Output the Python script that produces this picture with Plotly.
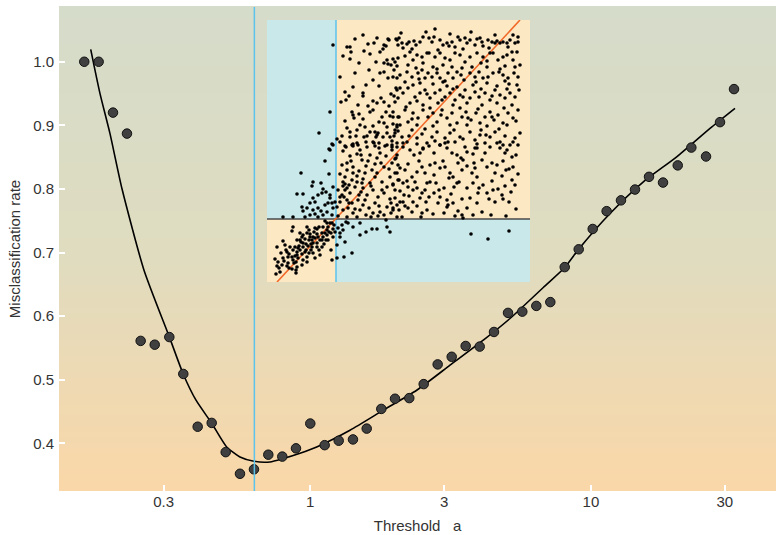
import plotly.graph_objects as go
import math

# ---------------- main chart data ----------------
thresholds = [0.1565, 0.1761, 0.1981, 0.2222, 0.2486, 0.2790, 0.3145, 0.3527,
              0.3969, 0.4453, 0.4995, 0.5616, 0.6299, 0.7086, 0.7948, 0.8893,
              1.0, 1.1253, 1.2625, 1.4195, 1.5888, 1.7909, 2.004, 2.253,
              2.536, 2.844, 3.191, 3.579, 4.015, 4.515, 5.066, 5.696,
              6.390, 7.167, 8.067, 9.048, 10.15, 11.38, 12.80, 14.36,
              16.11, 18.07, 20.39, 22.80, 25.72, 28.85, 32.36]
rates = [1.0, 1.0, 0.920, 0.887, 0.561, 0.555, 0.567, 0.509,
         0.426, 0.432, 0.386, 0.352, 0.359, 0.382, 0.379, 0.392,
         0.431, 0.397, 0.404, 0.406, 0.423, 0.454, 0.470, 0.471,
         0.493, 0.524, 0.536, 0.553, 0.552, 0.575, 0.605, 0.607,
         0.616, 0.622, 0.677, 0.705, 0.737, 0.765, 0.782, 0.799,
         0.819, 0.810, 0.837, 0.865, 0.851, 0.905, 0.957]

fit_x = [0.1650, 0.1780, 0.1932, 0.2133, 0.2555, 0.3145, 0.3527, 0.3915, 0.4453, 0.5036,
         0.5616, 0.6299, 0.7185, 0.8013, 0.9190, 1.054, 1.385, 1.820, 2.394, 3.147,
         4.136, 5.149, 6.766, 8.067, 9.048, 11.70, 15.38, 20.22, 26.58, 32.62]
fit_y = [1.0195, 0.9503, 0.8873, 0.8002, 0.6722, 0.5673, 0.5086, 0.4677, 0.4315, 0.3942,
         0.3784, 0.3717, 0.3706, 0.3760, 0.3843, 0.3942, 0.4205, 0.4520, 0.4834, 0.5227,
         0.5621, 0.5962, 0.6450, 0.6765, 0.7053, 0.7614, 0.8112, 0.8505, 0.8952, 0.9267]

optimal_threshold = 0.632

x_tickvals = [0.3, 1, 3, 10, 30]
x_ticktext = ["0.3", "1", "3", "10", "30"]
y_tickvals = [0.4, 0.5, 0.6, 0.7, 0.8, 0.9, 1.0]
y_ticktext = ["0.4", "0.5", "0.6", "0.7", "0.8", "0.9", "1.0"]

# ---------------- inset data (arbitrary score units) ----------------
inset_cut_x = 69
inset_cut_y = 63
inset_line_x = [10, 253]
inset_line_y = [0, 262]

inset_points = [
    # upper-left / top band
    (66, 237), (63, 170), (52, 149), (65, 138), (62, 133),
    (110, 244), (121, 243), (122, 242), (129, 243), (131, 237), (132, 244), (80, 235), (83, 235),
    (84, 230), (83, 223), (101, 238), (107, 239), (117, 237), (119, 236), (116, 233), (120, 222),
    (126, 223), (117, 219), (121, 218), (124, 217), (97, 231), (103, 228), (102, 212), (113, 209),
    (117, 210), (121, 204), (130, 204), (73, 205), (106, 202), (78, 190), (82, 186), (79, 182),
    (96, 189), (96, 186), (91, 177), (106, 181), (110, 179), (114, 184), (129, 194), (131, 184),
    (122, 176), (85, 170), (86, 167), (96, 163), (103, 170), (106, 172), (115, 165), (119, 170),
    (123, 166), (126, 165), (130, 157), (132, 165), (78, 161), (87, 164), (93, 157), (98, 155),
    (106, 156), (108, 150), (110, 147), (111, 149), (117, 159), (120, 155), (126, 158), (128, 152),
    (130, 155), (75, 146), (83, 145), (83, 150), (89, 146), (97, 145), (100, 146), (109, 145),
    (106, 140), (112, 139), (116, 145), (123, 145), (125, 141), (127, 146), (70, 143), (86, 138),
    (86, 136), (91, 137), (99, 140), (108, 136), (118, 136), (125, 137), (130, 135), (78, 136),
    (88, 243), (96, 247), (113, 230), (76, 226), (92, 219), (109, 220), (88, 209), (99, 197),
    (112, 196), (124, 188), (86, 195), (74, 180), (101, 176), (117, 180), (92, 168), (112, 160),
    (80, 154), (103, 150), (120, 149), (90, 152), (76, 131), (94, 127), (113, 129), (101, 121),
    (84, 121), (122, 113), (104, 96), (90, 100), (115, 92), (82, 79), (98, 82), (112, 76),
    (124, 79), (104, 65), (119, 62), (88, 73), (96, 94), (108, 118), (78, 98), (92, 87),
    # upper-right block
    (168, 253), (130, 242), (135, 239), (136, 234), (140, 238), (142, 240), (147, 241), (149, 237),
    (153, 240), (156, 245), (162, 244), (165, 240), (167, 245), (173, 242), (176, 237), (180, 239),
    (182, 236), (185, 240), (188, 235), (191, 245), (193, 242), (198, 244), (200, 239), (203, 242),
    (208, 237), (210, 243), (213, 244), (215, 240), (216, 236), (221, 242), (225, 240), (228, 239),
    (230, 241), (233, 239), (236, 240), (240, 239), (243, 242), (246, 247), (248, 239), (251, 240),
    (251, 245), (241, 235),
    (128, 220), (131, 224), (138, 226), (143, 230), (146, 222), (150, 227), (155, 225), (160, 229),
    (162, 229), (168, 225), (173, 229), (178, 224), (183, 222), (188, 229), (193, 227), (198, 220),
    (203, 225), (210, 229), (216, 225), (220, 221), (223, 229), (226, 229), (231, 222), (236, 225),
    (240, 227), (246, 222), (250, 230), (253, 217), (130, 216), (141, 217), (156, 219), (166, 215),
    (176, 217), (185, 215), (205, 215), (220, 215), (238, 216), (248, 215),
    (126, 205), (133, 207), (140, 210), (145, 205), (151, 209), (155, 212), (158, 204), (161, 209),
    (165, 205), (170, 209), (173, 204), (176, 200), (181, 209), (186, 204), (190, 210), (194, 207),
    (197, 202), (203, 209), (208, 205), (212, 210), (216, 204), (221, 205), (226, 209), (232, 210),
    (236, 207), (241, 204), (247, 209), (251, 205), (138, 200), (146, 197), (153, 199), (166, 198),
    (180, 196), (190, 195), (206, 197), (220, 199), (230, 196), (242, 198), (250, 197),
    (130, 192), (136, 189), (141, 194), (148, 185), (153, 189), (158, 192), (163, 184), (168, 189),
    (173, 192), (178, 185), (183, 189), (188, 182), (193, 187), (198, 192), (203, 184), (208, 190),
    (212, 185), (218, 189), (223, 182), (228, 192), (233, 187), (238, 184), (243, 189), (248, 185),
    (252, 192), (128, 180), (143, 179), (156, 177), (171, 179), (186, 177), (200, 179), (215, 177),
    (230, 179), (245, 177),
    (126, 170), (131, 165), (138, 172), (141, 160), (146, 169), (151, 164), (156, 172), (161, 165),
    (166, 169), (170, 160), (175, 172), (180, 164), (185, 169), (190, 159), (195, 165), (199, 170),
    (204, 162), (209, 169), (213, 159), (218, 165), (223, 170), (227, 162), (231, 167), (236, 159),
    (241, 169), (246, 164), (251, 172), (133, 157), (150, 157), (166, 156), (183, 157), (200, 157),
    (220, 156), (240, 157),
    (128, 149), (135, 145), (140, 140), (145, 152), (150, 144), (155, 148), (160, 139), (165, 145),
    (170, 150), (173, 137), (178, 144), (183, 149), (188, 140), (193, 145), (198, 135), (203, 150),
    (208, 142), (213, 147), (218, 139), (223, 145), (228, 150), (233, 140), (238, 146), (243, 137),
    (248, 144), (253, 149), (136, 135), (156, 134), (180, 134), (210, 134), (233, 134),
    (134, 249), (159, 250), (183, 248), (204, 250), (228, 247), (145, 233), (171, 232), (196, 233),
    (222, 234), (245, 230), (127, 212), (149, 214), (170, 213), (195, 214), (214, 219), (233, 213),
    (152, 203), (178, 201), (209, 200), (238, 201), (133, 194), (160, 188), (186, 193), (214, 193),
    (240, 193), (127, 186), (150, 181), (175, 182), (196, 185), (225, 186), (139, 175), (163, 174),
    (193, 174), (211, 173), (237, 174), (145, 163), (174, 167), (201, 164), (225, 165), (249, 161),
    (131, 151), (158, 153), (187, 152), (214, 152), (232, 153), (142, 146), (168, 141), (196, 143),
    (219, 147), (246, 140), (150, 138), (181, 140), (206, 128), (238, 129), (131, 117), (152, 121),
    (176, 121), (207, 119), (236, 121), (140, 101), (167, 107), (195, 112), (225, 101), (245, 102),
    (133, 91), (158, 92), (184, 88), (212, 94), (236, 83), (150, 76), (171, 79), (203, 84),
    (242, 80), (160, 72), (188, 66), (215, 70), (239, 66), (128, 123), (148, 100), (192, 100),
    # left of cut, above horizontal cut
    (66, 137), (63, 132), (58, 121), (34, 109), (62, 108), (46, 100), (45, 96), (54, 99),
    (30, 88), (36, 88), (56, 93), (59, 90), (55, 89), (51, 87), (63, 87), (46, 84),
    (43, 79), (48, 80), (35, 75), (36, 71), (40, 74), (51, 74), (54, 71), (58, 77),
    (61, 79), (65, 79), (66, 74), (60, 70), (56, 67), (51, 65), (48, 68), (43, 67),
    (38, 65), (16, 65), (26, 65), (46, 72), (65, 67), (63, 84), (68, 80), (66, 95),
    # right of cut, middle band
    (73, 140), (79, 135), (85, 137), (90, 139), (93, 132), (100, 135), (107, 139), (112, 134),
    (120, 137), (125, 132), (130, 139), (83, 126), (90, 128), (95, 122), (103, 127), (110, 124),
    (114, 119), (119, 126), (125, 119), (129, 124), (75, 117), (80, 119), (86, 115), (92, 111),
    (99, 116), (105, 112), (110, 109), (117, 115), (123, 105), (130, 109), (73, 108), (78, 105),
    (85, 102), (90, 106), (96, 103), (103, 99), (108, 105), (115, 100), (120, 95), (126, 98),
    (132, 102), (71, 92), (76, 96), (80, 94), (83, 89), (88, 95), (94, 90), (100, 87),
    (106, 92), (111, 85), (117, 89), (123, 83), (128, 92), (75, 87), (77, 85), (80, 82),
    (73, 80), (85, 79), (91, 82), (96, 77), (102, 74), (108, 79), (113, 70), (120, 75),
    (126, 72), (130, 77), (70, 75), (76, 72), (81, 74), (86, 69), (93, 72), (99, 67),
    (106, 69), (111, 66), (117, 67), (124, 69), (130, 65), (71, 66), (80, 65), (90, 65),
    (73, 85), (78, 92), (82, 97), (95, 99), (76, 100), (98, 109), (86, 109), (80, 112),
    # lower-left cluster
    (26, 55), (25, 51), (16, 41), (18, 37), (10, 35), (8, 23), (10, 16), (9, 8),
    (17, 21), (20, 16), (22, 28), (25, 25), (26, 32), (28, 35), (30, 27), (29, 20),
    (27, 19), (30, 15), (29, 9), (33, 42), (35, 45), (36, 47), (36, 39), (38, 43),
    (40, 49), (40, 55), (42, 52), (43, 45), (45, 42), (46, 39), (47, 50), (50, 53),
    (51, 45), (52, 55), (53, 42), (55, 49), (56, 55), (58, 49), (60, 52), (61, 55),
    (63, 59), (64, 49), (66, 53), (65, 59), (36, 35), (39, 32), (40, 25), (42, 29),
    (44, 32), (46, 29), (48, 24), (50, 35), (52, 32), (55, 35), (57, 38), (59, 42),
    (33, 32), (31, 24), (36, 22), (35, 17), (23, 35), (19, 32), (14, 29), (11, 20),
    (21, 19), (25, 13), (66, 45), (64, 32), (65, 22), (53, 27), (41, 36), (45, 35),
    (32, 36), (30, 30), (35, 28), (39, 38), (43, 48), (48, 44), (56, 45), (60, 47),
    (61, 42), (67, 57), (68, 50), (33, 49), (30, 42), (21, 25), (15, 17), (13, 10),
    (29, 12), (40, 20), (46, 45), (50, 39), (58, 61), (60, 59),
    (12, 14), (16, 24), (22, 14), (26, 22), (31, 34), (38, 30), (44, 38), (50, 48),
    (55, 42), (62, 50), (34, 40), (28, 26), (20, 30), (42, 42), (48, 54),
    # lower-right (below horizontal cut)
    (71, 54), (75, 57), (73, 45), (78, 40), (70, 37), (70, 24), (77, 25), (85, 29),
    (81, 59), (86, 55), (93, 47), (99, 50), (105, 53), (110, 53), (120, 55), (93, 59),
    (79, 60), (73, 49), (76, 52), (204, 48), (221, 43), (242, 51), (123, 50),
    # right block, middle band
    (125, 135), (136, 139), (130, 127), (143, 132), (147, 127), (153, 129), (156, 133), (162, 136),
    (167, 129), (173, 137), (178, 139), (185, 129), (190, 127), (194, 124), (200, 130), (208, 134),
    (210, 138), (218, 129), (223, 135), (230, 139), (236, 137), (240, 132), (245, 125), (249, 127),
    (251, 137), (128, 109), (133, 114), (138, 112), (141, 118), (145, 105), (150, 110), (155, 115),
    (158, 109), (163, 117), (168, 119), (173, 114), (178, 115), (183, 109), (186, 105), (191, 119),
    (196, 122), (200, 116), (205, 109), (208, 114), (210, 105), (215, 122), (220, 115), (225, 119),
    (228, 109), (230, 117), (235, 106), (239, 112), (242, 113), (246, 115), (251, 108),
    (126, 97), (131, 102), (136, 99), (141, 95), (146, 92), (150, 94), (155, 89), (160, 99),
    (163, 100), (169, 99), (172, 92), (177, 94), (182, 104), (187, 95), (190, 99), (200, 94),
    (206, 99), (211, 89), (216, 97), (220, 89), (226, 92), (231, 93), (238, 96), (244, 90),
    (248, 97), (128, 84), (133, 80), (137, 87), (142, 86), (146, 80), (153, 84), (159, 80),
    (162, 85), (167, 89), (173, 85), (180, 82), (181, 77), (186, 79), (195, 83), (200, 74),
    (210, 79), (222, 83), (228, 80), (235, 87), (249, 73), (126, 74), (132, 72), (138, 76),
    (145, 70), (155, 69), (166, 68), (177, 69), (180, 75), (191, 71), (195, 67), (196, 64),
    (206, 67), (224, 67), (136, 80), (141, 74), (135, 65), (154, 65),
]

# ---------------- colours ----------------
bg_stops = [(0.0, (250, 215, 168)), (0.5, (223, 220, 192)), (1.0, (213, 220, 202))]
inset_blue = "#c8e8ea"
inset_peach = "#fde8c4"
cut_blue = "#5cc3ec"
ref_orange = "#f26a2a"


def bg_color(f):
    for (f0, c0), (f1, c1) in zip(bg_stops[:-1], bg_stops[1:]):
        if f0 <= f <= f1:
            t = (f - f0) / (f1 - f0)
            return "rgb(%d,%d,%d)" % tuple(round(a + (b - a) * t) for a, b in zip(c0, c1))
    return "rgb(%d,%d,%d)" % bg_stops[-1][1]


fig = go.Figure()

# main chart traces
fig.add_trace(go.Scatter(x=fit_x, y=fit_y, mode="lines",
                         line=dict(color="black", width=1.6, shape="spline", smoothing=0.6),
                         hoverinfo="skip", showlegend=False, xaxis="x", yaxis="y"))
fig.add_trace(go.Scatter(x=thresholds, y=rates, mode="markers",
                         marker=dict(size=9.5, color="#404040", line=dict(color="#111111", width=1)),
                         showlegend=False, xaxis="x", yaxis="y"))

# inset traces
ix = [p[0] for p in inset_points]
iy = [p[1] for p in inset_points]
fig.add_trace(go.Scatter(x=inset_line_x, y=inset_line_y, mode="lines", line=dict(color=ref_orange, width=1.6),
                         showlegend=False, xaxis="x2", yaxis="y2", hoverinfo="skip"))
fig.add_trace(go.Scatter(x=ix, y=iy, mode="markers", marker=dict(size=3.6, color="black"),
                         showlegend=False, xaxis="x2", yaxis="y2"))

shapes = []
N = 90
for i in range(N):
    shapes.append(dict(type="rect", xref="x domain", yref="y domain", x0=0, x1=1,
                       y0=i / N, y1=(i + 1) / N + 0.002, fillcolor=bg_color((i + 0.5) / N),
                       line=dict(width=0), layer="below"))
# vertical optimal threshold line
shapes.append(dict(type="line", xref="x", yref="y domain", x0=optimal_threshold, x1=optimal_threshold,
                   y0=0, y1=1, line=dict(color=cut_blue, width=1.5), layer="above"))

# inset quadrants
X0, X1, Y0, Y1 = 0, 263, 0, 262
quad = [(X0, inset_cut_x, inset_cut_y, Y1, inset_blue), (inset_cut_x, X1, inset_cut_y, Y1, inset_peach),
        (X0, inset_cut_x, Y0, inset_cut_y, inset_peach), (inset_cut_x, X1, Y0, inset_cut_y, inset_blue)]
for a, b, c, d, col in quad:
    shapes.append(dict(type="rect", xref="x2", yref="y2", x0=a, x1=b, y0=c, y1=d, fillcolor=col,
                       line=dict(width=0), layer="below"))
shapes.append(dict(type="line", xref="x2", yref="y2", x0=inset_cut_x, x1=inset_cut_x, y0=Y0, y1=Y1,
                   line=dict(color=cut_blue, width=1.5), layer="below"))
shapes.append(dict(type="line", xref="x2", yref="y2", x0=X0, x1=X1, y0=inset_cut_y, y1=inset_cut_y,
                   line=dict(color="#4a4a4a", width=1.5), layer="below"))

font_family = "Liberation Sans, Arial, Helvetica, sans-serif"
txt = "#333333"

fig.update_layout(
    width=776, height=535,
    margin=dict(l=59, r=0, t=7, b=44),
    paper_bgcolor="white",
    plot_bgcolor="rgba(0,0,0,0)",
    font=dict(family=font_family, size=15, color=txt),
    shapes=shapes,
    xaxis=dict(type="log", range=[math.log10(0.1272), math.log10(45.67)], tickvals=x_tickvals, ticktext=x_ticktext,
               ticks="inside", ticklen=6, tickwidth=2, tickcolor="white", showgrid=False, zeroline=False,
               showline=False, tickfont=dict(size=15, color=txt),
               title=dict(text="Threshold\u00a0\u00a0\u00a0a", font=dict(size=15, color=txt), standoff=11),
               domain=[0, 1]),
    yaxis=dict(range=[0.3249, 1.0861], tickvals=y_tickvals, ticktext=y_ticktext,
               ticks="inside", ticklen=6, tickwidth=2, tickcolor="white", showgrid=False, zeroline=False,
               showline=False, tickfont=dict(size=15, color=txt), ticklabelstandoff=4,
               title=dict(text="Misclassification rate", font=dict(size=15, color=txt), standoff=8),
               domain=[0, 1]),
    xaxis2=dict(domain=[0.2901, 0.6569], range=[X0, X1], anchor="y2", visible=False, showgrid=False, zeroline=False),
    yaxis2=dict(domain=[0.4318, 0.9731], range=[Y0, Y1], anchor="x2", visible=False, showgrid=False, zeroline=False),
)

fig.write_html("out.html")
